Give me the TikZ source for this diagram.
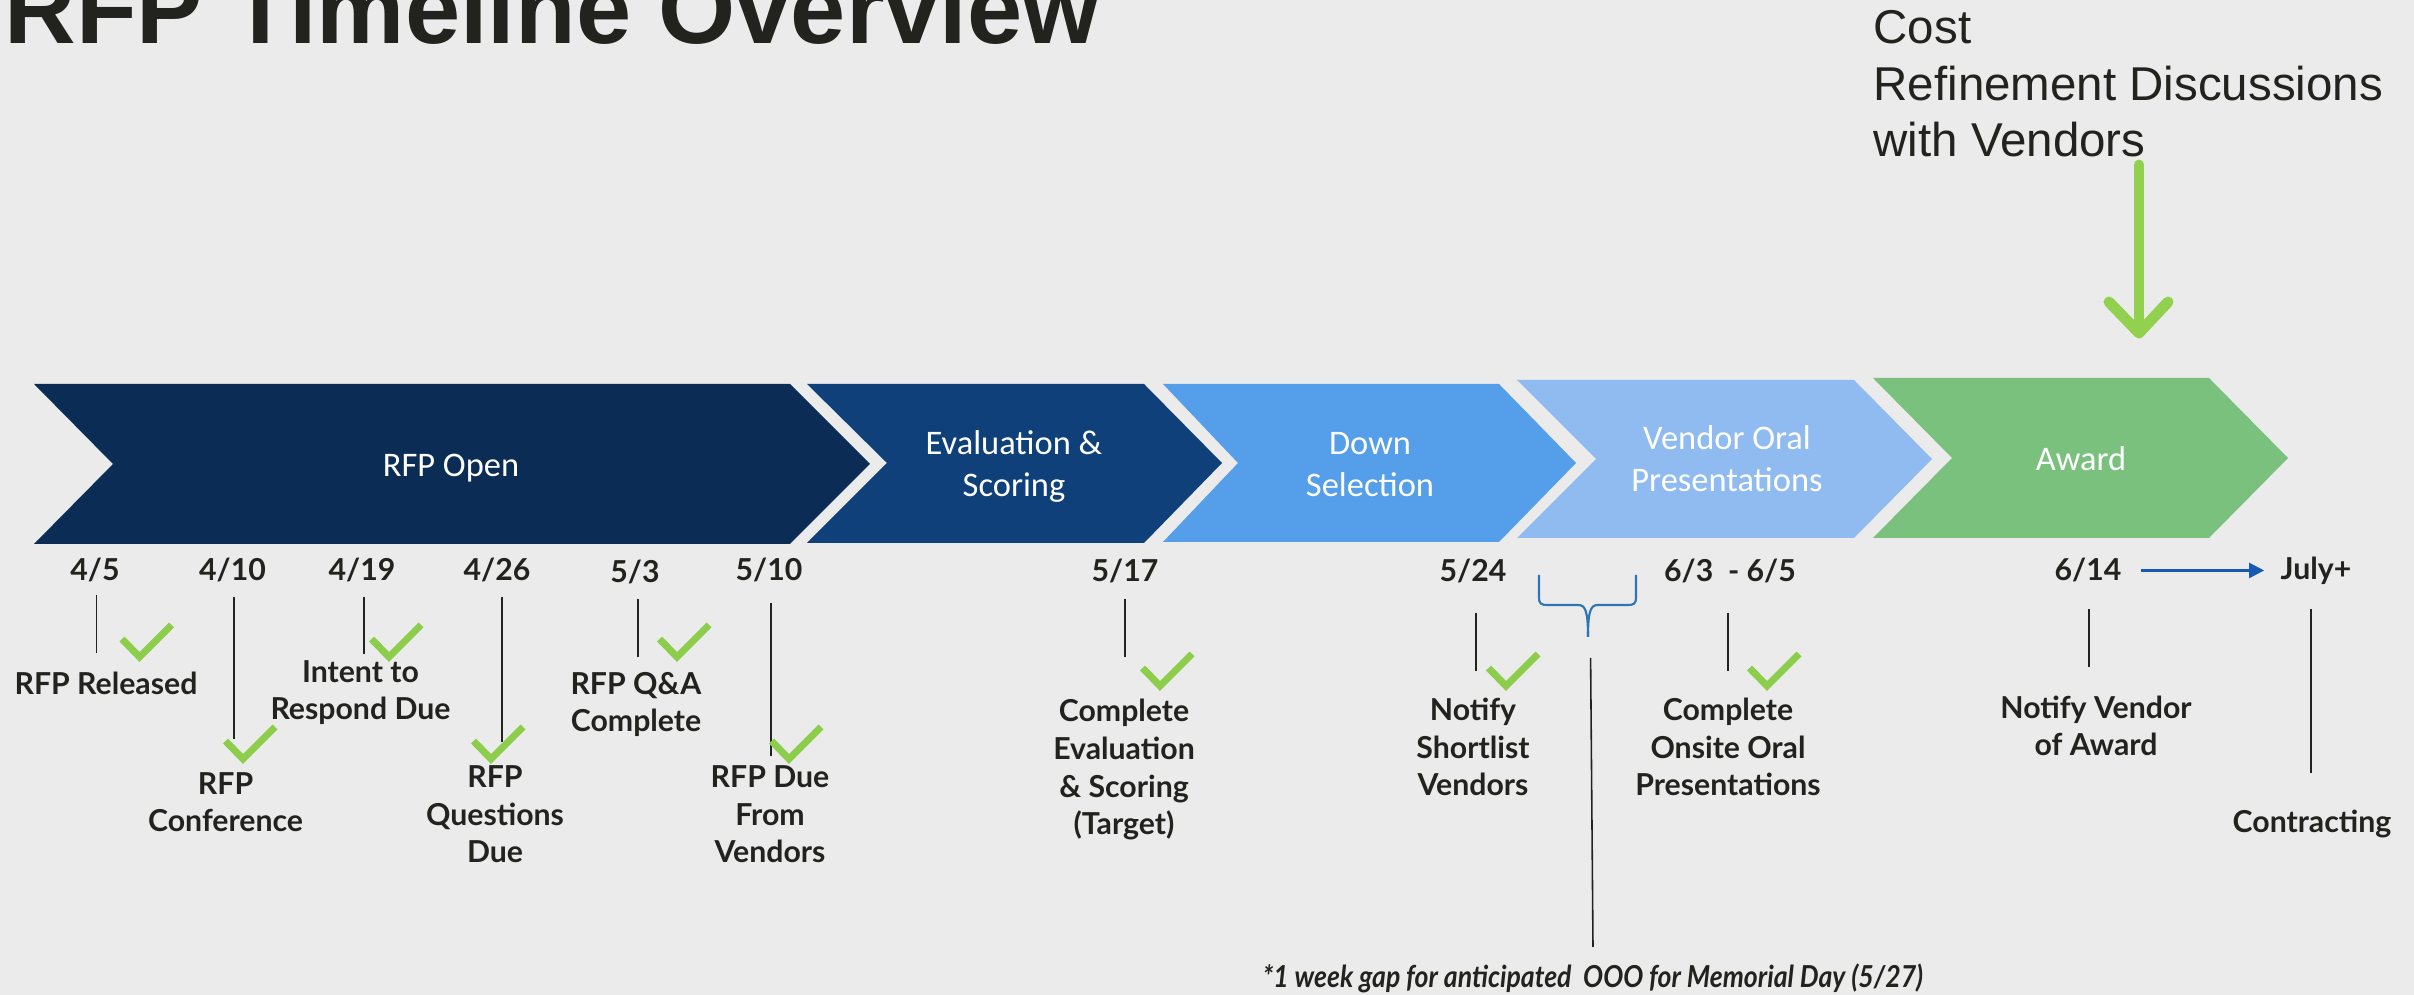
\documentclass[tikz,border=0pt]{standalone}
\usepackage{graphicx}
\usepackage{fontspec}
\setmainfont{Lato}
\newfontfamily\carl{Carlito}
\newfontfamily\arialf{Liberation Sans}
\usetikzlibrary{arrows.meta}
\definecolor{bg}{RGB}{235,235,235}
\definecolor{navyA}{RGB}{11,45,85}
\definecolor{navyB}{RGB}{15,64,122}
\definecolor{blueC}{RGB}{84,158,234}
\definecolor{blueD}{RGB}{143,187,240}
\definecolor{greenE}{RGB}{122,193,126}
\definecolor{txt}{RGB}{34,34,30}
\definecolor{chkgreen}{RGB}{140,205,75}
\definecolor{arrowgreen}{RGB}{146,208,80}
\definecolor{braceblue}{RGB}{46,117,182}
\definecolor{arrowblue}{RGB}{22,90,180}
\tikzset{
  lbl/.style={font=\fontsize{8.6}{10.8}\selectfont\bfseries, text=txt, align=center, anchor=base, inner sep=0pt},
  datelbl/.style={lbl},
  chevtxt/.style={font=\carl\fontsize{9.8}{11.95}\selectfont, text=white, align=center, anchor=base, inner sep=0pt},
  tick/.style={draw=txt, line width=0.55pt},
  chk/.style={draw=chkgreen, line width=2pt, line cap=butt, line join=miter},
  bracepath/.style={draw=braceblue, line width=0.6pt},
  garrow/.style={draw=arrowgreen, line width=3.1pt, line cap=round, line join=round},
}
\newcommand\checkmk[2]{\draw[chk] ({#1-17.5},{#2-18}) -- (#1,#2) -- ({#1+32},{#2-32});}
\begin{document}
\begin{tikzpicture}[x=0.01cm,y=-0.01cm]
\useasboundingbox (0,0) rectangle (2414,995);
\fill[bg] (0,0) rectangle (2414,995);

% title
\node[anchor=base west, inner sep=0pt, font=\arialf\bfseries\fontsize{28.2}{30}\selectfont, text=txt] (title) at (4,44) {RFP Timeline Overview};

% cost note (base = last line)
\node[anchor=base west, inner sep=0pt, align=left, font=\arialf\fontsize{13.5}{16.2}\selectfont, text=txt] (cost) at (1873,157) {Cost\\Refinement Discussions\\with Vendors};
\coordinate (ga1) at (2139,165);
\coordinate (ga2) at (2139,333);
\draw[garrow] (ga1) -- (ga2);
\draw[garrow] (2109,302) -- (ga2) -- (2168,302);

% chevrons
\fill[navyA] (34,384) -- (790,384) -- (870,464) -- (790,544) -- (34,544) -- (113,464) -- cycle;
\fill[navyB] (807,384) -- (1144,384) -- (1222,463) -- (1144,543) -- (807,543) -- (887,463) -- cycle;
\fill[blueC] (1163,384) -- (1499,384) -- (1576,463) -- (1499,542) -- (1163,542) -- (1238,463) -- cycle;
\fill[blueD] (1517,380) -- (1854,380) -- (1932,459) -- (1854,538) -- (1517,538) -- (1596,459) -- cycle;
\fill[greenE] (1873,378) -- (2209,378) -- (2288,458) -- (2209,538) -- (1873,538) -- (1952,458) -- cycle;

\node[chevtxt] (t1) at (451,477) {RFP Open};
\node[chevtxt] (t2) at (1014,497) {Evaluation \&\\Scoring};
\node[chevtxt] (t3) at (1370,497) {Down\\Selection};
\node[chevtxt] (t4) at (1727,492) {Vendor Oral\\Presentations};
\node[chevtxt] (t5) at (2081,471) {Award};

% dates
\node[datelbl] (d1) at (95,581) {4/5};
\node[datelbl] (d2) at (232.5,581) {4/10};
\node[datelbl] (d3) at (362,581) {4/19};
\node[datelbl] (d4) at (497,581) {4/26};
\node[datelbl] (d5) at (635,583) {5/3};
\node[datelbl] (d6) at (769,581) {5/10};
\node[datelbl] (d7) at (1125,582) {5/17};
\node[datelbl] (d8) at (1473,582) {5/24};
\node[datelbl] (d9) at (1730,582) {6/3\ \ - 6/5};
\node[datelbl] (d10) at (2088,581) {6/14};
\node[datelbl] (d11) at (2316,580) {July+};
\draw[draw=arrowblue, line width=0.6pt, -{Triangle[length=4.3pt,width=4.3pt]}, shorten <=5.4pt, shorten >=4.5pt] (d10.east) -- (d10.east -| d11.west);

% ticks
\draw[tick] (96.5,595) -- (96.5,653);
\draw[tick] (234,597) -- (234,739);
\draw[tick] (364,597) -- (364,654);
\draw[tick] (502,597) -- (502,742);
\draw[tick] (638,599) -- (638,657);
\draw[tick] (771,603) -- (771,756);
\draw[tick] (1125,599) -- (1125,657);
\draw[tick] (1476,613) -- (1476,671);
\draw[tick] (1728,613) -- (1728,671);
\draw[tick] (2089,609) -- (2089,667);
\draw[tick] (2311,609) -- (2311,773);
\coordinate (gapTop) at (1590.6,658);
\coordinate (gapBot) at (1593,947);
\draw[tick, line width=0.45pt] (gapTop) -- (gapBot);

% brace
\draw[bracepath] (1539,575) -- (1539,597) .. controls (1539,604) and (1541,605) .. (1548,605) -- (1578,605) .. controls (1585,605) and (1588,610) .. (1588,637);
\draw[bracepath] (1636,575) -- (1636,597) .. controls (1636,604) and (1634,605) .. (1627,605) -- (1598,605) .. controls (1591,605) and (1588,610) .. (1588,637);

% checks
\checkmk{139.5}{657}
\checkmk{243}{759}
\checkmk{389}{657}
\checkmk{491}{759}
\checkmk{677}{657}
\checkmk{789}{759}
\checkmk{1160}{686}
\checkmk{1506}{686}
\checkmk{1767}{686}

% labels (anchor base = last line baseline)
\node[lbl] (l1) at (106,695) {RFP Released};
\node[lbl] (l2) at (225.6,832) {RFP\\Conference};
\node[lbl] (l3) at (360.5,720) {Intent to\\Respond Due};
\node[lbl] (l4) at (495,863) {RFP\\Questions\\Due};
\node[lbl] (l5) at (636,732) {RFP Q\&A\\Complete};
\node[lbl] (l6) at (770,863) {RFP Due\\From\\Vendors};
\node[lbl] (l7) at (1124,835) {Complete\\Evaluation\\\& Scoring\\(Target)};
\node[lbl] (l8) at (1473,796) {Notify\\Shortlist\\Vendors};
\node[lbl] (l9) at (1728,796) {Complete\\Onsite Oral\\Presentations};
\node[lbl] (l10) at (2096,756) {Notify Vendor\\of Award};
\node[lbl] (l11) at (2312,833) {Contracting};
\node[lbl, font=\fontsize{8.6}{10.8}\selectfont\bfseries\itshape] (foot) at (1593,988) {\scalebox{0.88}[1]{*1 week gap for anticipated\ \ OOO for Memorial Day (5/27)}};
\end{tikzpicture}
\end{document}
